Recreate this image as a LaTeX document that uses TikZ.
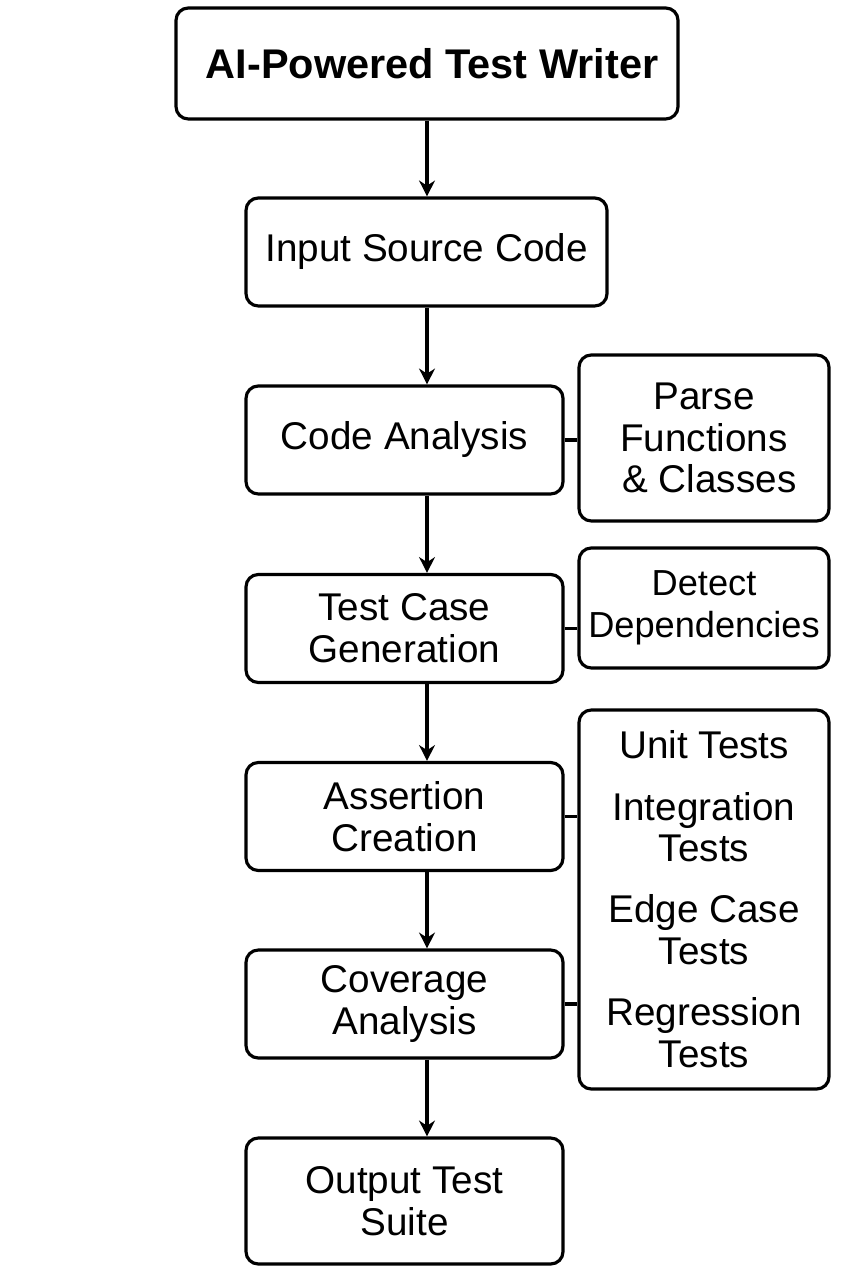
\documentclass[tikz,border=0pt]{standalone}
\usepackage{fontspec}
\setmainfont{Liberation Sans}
\usetikzlibrary{arrows.meta}

\tikzset{
	box/.style={draw, rounded corners=3.5pt, line width=0.9pt, align=center, inner sep=0pt, font=\fontsize{11}{11.9}\selectfont},
	mainbox/.style={box, minimum width=3.17cm, minimum height=1.08cm},
	sidebox/.style={box, minimum width=2.50cm},
	flow/.style={-{Stealth[length=4.5pt,width=4.5pt]}, line width=0.9pt},
	link/.style={line width=0.9pt}
}

\begin{document}
\begin{tikzpicture}
	\useasboundingbox (0,0) rectangle (8.53,-12.8);
	% main pipeline
	\node[box, minimum width=5.02cm, minimum height=1.11cm, font=\fontsize{11.8}{14}\selectfont\bfseries] (title) at (4.27,-0.635) {\hspace{0.1cm}AI-Powered Test Writer};
	\node[box, minimum width=3.61cm, minimum height=1.08cm] (input) at (4.265,-2.52) {Input Source Code};
	\node[mainbox] (ana) at (4.045,-4.40) {Code Analysis};
	\node[mainbox] (gen) at (4.045,-6.285) {Test Case\\Generation};
	\node[mainbox] (assert) at (4.045,-8.165) {Assertion\\Creation};
	\node[mainbox] (cov) at (4.045,-10.04) {Coverage\\Analysis};
	\node[mainbox, minimum height=1.26cm] (out) at (4.045,-12.01) {Output Test\\Suite};
	% side notes
	\node[sidebox, minimum height=1.66cm] (parse) at (7.04,-4.38) {Parse\\Functions\\\ \& Classes};
	\node[sidebox, minimum height=1.20cm, font=\fontsize{10.3}{11.9}\selectfont] (detect) at (7.04,-6.08) {Detect\\Dependencies};
	\node[sidebox, minimum height=3.79cm] (tests) at (7.04,-8.995) {Unit Tests\\[5.5pt]Integration\\Tests\\[5.5pt]Edge Case\\Tests\\[5.5pt]Regression\\Tests};
	\foreach \a/\b in {title/input, input/ana, ana/gen, gen/assert, assert/cov, cov/out}
		\draw[flow] (\a.south -| title.south) -- (\b.north -| title.south);
	\foreach \a/\b in {ana/parse, gen/detect, assert/tests, cov/tests}
		\draw[link] (\a.east) -- (\a.east -| \b.west);
\end{tikzpicture}
\end{document}
